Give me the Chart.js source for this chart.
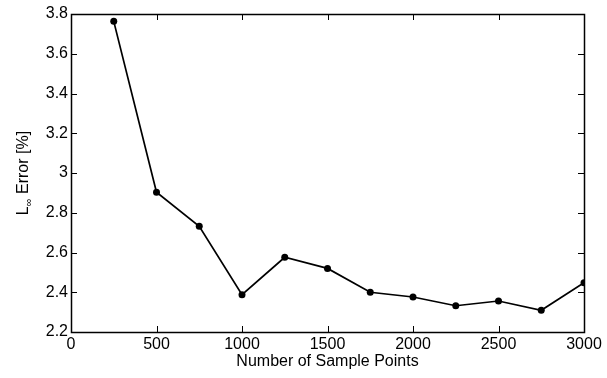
<!DOCTYPE html>
<html>
<head>
<meta charset="utf-8">
<script src="https://cdn.jsdelivr.net/npm/chart.js@4/dist/chart.umd.min.js"></script>
<style>
  html, body { margin: 0; padding: 0; background: #fff; }
  #wrap { width: 607px; height: 378px; }
</style>
</head>
<body>
<div id="wrap"><canvas id="myChart" width="607" height="378"></canvas></div>
<script>
// values
var samplePoints = [250, 500, 750, 1000, 1250, 1500, 1750, 2000, 2250, 2500, 2750, 3000]
var errorValues = [3.763, 2.903, 2.732, 2.388, 2.576, 2.520, 2.400, 2.376, 2.332, 2.356, 2.309, 2.448]
var xTicks = [0, 500, 1000, 1500, 2000, 2500, 3000]
var yTicks = [2.2, 2.4, 2.6, 2.8, 3, 3.2, 3.4, 3.6, 3.8]

var points = samplePoints.map((x, i) => ({x: x, y: errorValues[i]}))
var fontFam = '"Liberation Sans", Arial, Helvetica, sans-serif'
var fs = 16

// matlab style box with ticks pointing inward + y title with subscript
var boxPlugin = {
  id: 'box',
  afterDraw(chart) {
    var ctx = chart.ctx
    var a = chart.chartArea
    var xs = chart.scales.x, ys = chart.scales.y
    var tl = 6
    ctx.save()
    ctx.strokeStyle = '#000'
    ctx.lineWidth = 1
    ctx.beginPath()
    xTicks.forEach(v => {
      var px = Math.round(xs.getPixelForValue(v)) + 0.5
      ctx.moveTo(px, a.bottom); ctx.lineTo(px, a.bottom - tl)
      ctx.moveTo(px, a.top); ctx.lineTo(px, a.top + tl)
    })
    yTicks.forEach(v => {
      var py = Math.round(ys.getPixelForValue(v)) + 0.5
      ctx.moveTo(a.left, py); ctx.lineTo(a.left + tl, py)
      ctx.moveTo(a.right, py); ctx.lineTo(a.right - tl, py)
    })
    ctx.stroke()
    ctx.lineWidth = 1.5
    ctx.strokeRect(Math.round(a.left) + 0.5, Math.round(a.top) + 0.5, Math.round(a.right - a.left), Math.round(a.bottom - a.top))

    // y title "L∞ Error [%]"
    ctx.fillStyle = '#000'
    ctx.translate(24, (a.top + a.bottom) / 2)
    ctx.rotate(-Math.PI / 2)
    ctx.textBaseline = 'middle'
    ctx.textAlign = 'left'
    var big = fs + 'px ' + fontFam, small = '11px ' + fontFam
    ctx.font = big
    var wL = ctx.measureText('L').width
    var wE = ctx.measureText(' Error [%]').width
    ctx.font = small
    var wI = ctx.measureText('\u221E').width
    var x0 = -(wL + wI + wE) / 2
    ctx.font = big
    ctx.fillText('L', x0, 0)
    ctx.font = small
    ctx.fillText('\u221E', x0 + wL, 5)
    ctx.font = big
    ctx.fillText(' Error [%]', x0 + wL + wI, 0)
    ctx.restore()
  }
}

var ctx = document.getElementById('myChart').getContext('2d')
var myChart = new Chart(ctx, {
  type: 'line',
  data: {
    datasets: [{
      label: 'error',
      data: points,
      borderColor: '#000',
      backgroundColor: '#000',
      borderWidth: 1.7,
      pointRadius: 3.5,
      pointBackgroundColor: '#000',
      pointBorderWidth: 0,
      tension: 0
    }]
  },
  options: {
    responsive: false,
    animation: false,
    layout: { padding: { top: 14, right: 23, left: 0, bottom: 0 } },
    plugins: { legend: { display: false }, tooltip: { enabled: false } },
    scales: {
      x: {
        type: 'linear',
        min: 0, max: 3000,
        afterBuildTicks: s => { s.ticks = xTicks.map(v => ({value: v})) },
        afterFit: s => { s.height = 46 },
        grid: { display: false, drawTicks: false },
        border: { display: false },
        ticks: { color: '#000', font: { family: fontFam, size: fs }, padding: 3, maxRotation: 0, callback: v => String(v) },
        title: { display: true, text: 'Number of Sample Points', color: '#000', font: { family: fontFam, size: fs }, padding: { top: 0, bottom: 7 } }
      },
      y: {
        type: 'linear',
        min: 2.2, max: 3.8,
        afterBuildTicks: s => { s.ticks = yTicks.map(v => ({value: v})) },
        afterFit: s => { s.width = 71 },
        grid: { display: false, drawTicks: false },
        border: { display: false },
        ticks: { color: '#000', font: { family: fontFam, size: fs }, padding: 3, callback: v => String(Math.round(v * 10) / 10) }
      }
    }
  },
  plugins: [boxPlugin]
})
</script>
</body>
</html>
